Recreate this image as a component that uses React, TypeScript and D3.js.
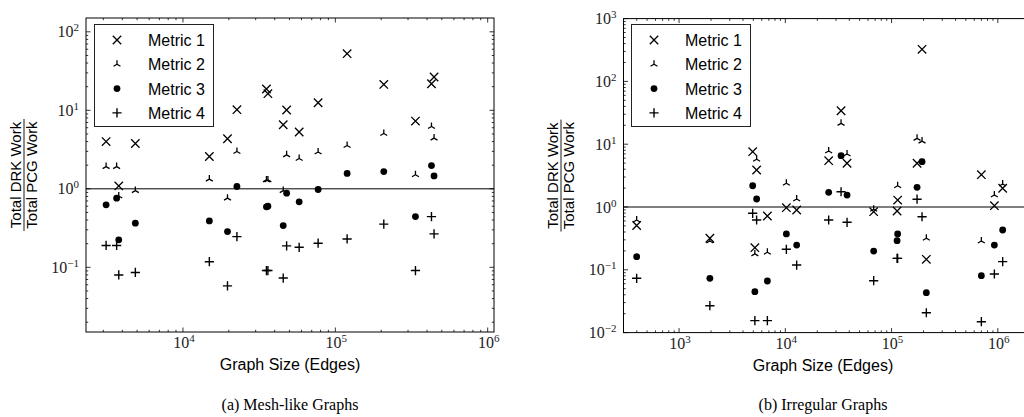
import React from "react";
import * as d3 from "d3";

// ---------- DATA ----------
const meshSizes = [3130, 3670, 3790, 4870, 14900, 19600, 22600, 35300, 36100, 45500, 47900, 57900, 77100, 119500, 208000, 335700, 427600, 444600];
const meshMetric1 = [4.0, null, 1.09, 3.78, 2.58, 4.34, 10.2, 18.7, 16.3, 6.55, 10.1, 5.29, 12.5, 52.7, 21.4, 7.3, 21.8, 26.6];
const meshMetric2 = [1.92, 1.92, 0.81, 0.95, 1.33, 0.76, 2.99, 1.3, 1.3, 0.95, 2.71, 2.43, 2.94, 3.57, 5.07, 1.51, 6.23, 4.43];
const meshMetric3 = [0.625, 0.76, 0.224, 0.365, 0.39, 0.285, 1.07, 0.59, 0.6, 0.34, 0.88, 0.683, 0.98, 1.57, 1.66, 0.443, 1.98, 1.46];
const meshMetric4 = [0.19, 0.19, 0.08, 0.086, 0.118, 0.058, 0.246, 0.091, 0.091, 0.073, 0.1875, 0.18, 0.203, 0.23, 0.355, 0.091, 0.443, 0.267];

const irrSizes = [399, 1950, 4930, 5170, 5370, 6780, 10230, 12790, 25590, 33470, 38120, 67860, 112700, 114100, 173800, 193600, 212500, 700000, 928000, 1111000];
const irrMetric1 = [0.507, 0.318, 7.6, 0.225, 3.88, 0.719, 0.975, 0.896, 5.46, 34.1, 4.97, 0.842, 0.864, 1.29, 4.97, 324, 0.147, 3.27, 1.05, 1.99];
const irrMetric2 = [0.621, 0.287, null, 0.179, 5.75, 0.19, 2.39, 1.34, 7.79, 21.5, 6.98, 0.919, null, 2.18, 12.4, 11.2, 0.318, 0.287, 1.55, 2.32];
const irrMetric3 = [0.162, 0.0732, 2.18, 0.0448, 1.34, 0.0663, 0.372, 0.248, 1.71, 6.56, 1.55, 0.199, 0.291, 0.372, 2.06, 5.26, 0.0432, 0.0805, 0.248, 0.43];
const irrMetric4 = [0.0732, 0.0268, 0.794, 0.0155, 0.621, 0.0155, 0.212, 0.119, 0.621, 1.75, 0.571, 0.067, 0.152, 0.152, 1.33, 0.7, 0.0207, 0.0149, 0.0857, 0.135];

const metricNames = ["Metric 1", "Metric 2", "Metric 3", "Metric 4"];
const meshXTicks = [1e4, 1e5, 1e6];
const meshYTicks = [0.1, 1, 10, 100];
const irrXTicks = [1e3, 1e4, 1e5, 1e6];
const irrYTicks = [0.01, 0.1, 1, 10, 100, 1000];

// ---------- RENDER HELPERS ----------
const markerKinds = ["x", "tri", "dot", "plus"];

function Marker({ kind, x, y }: { kind: string; x: number; y: number }) {
  if (kind === "x") {
    const s = 4.2;
    return <path d={`M${x - s},${y - s}L${x + s},${y + s}M${x - s},${y + s}L${x + s},${y - s}`} stroke="#000" strokeWidth={1.3} fill="none" />;
  }
  if (kind === "tri") {
    const r = 4;
    return <path d={`M${x},${y}L${x},${y - r}M${x},${y}L${x - r * 0.866},${y + r * 0.5}M${x},${y}L${x + r * 0.866},${y + r * 0.5}`} stroke="#000" strokeWidth={1.3} fill="none" />;
  }
  if (kind === "dot") {
    return <circle cx={x} cy={y} r={3.4} fill="#000" />;
  }
  const s = 4.6;
  return <path d={`M${x - s},${y}L${x + s},${y}M${x},${y - s}L${x},${y + s}`} stroke="#000" strokeWidth={1.4} fill="none" />;
}

function expLabel(v: number) {
  const e = Math.round(Math.log10(v));
  return e < 0 ? "\u2212" + Math.abs(e) : String(e);
}

function minorTicks(domain: [number, number]) {
  const out: number[] = [];
  const lo = Math.floor(Math.log10(domain[0]));
  const hi = Math.ceil(Math.log10(domain[1]));
  for (let e = lo; e <= hi; e++) {
    for (let k = 2; k <= 9; k++) {
      const v = k * Math.pow(10, e);
      if (v >= domain[0] && v <= domain[1]) out.push(v);
    }
  }
  return out;
}

type PanelProps = {
  x0: number; x1: number; y0: number; y1: number;
  xDomain: [number, number]; yDomain: [number, number];
  xTicks: number[]; yTicks: number[];
  sizes: number[]; series: (number | null)[][];
  legendX: number; ylabelX: number; xlabelX: number; caption: string;
};

function Panel(p: PanelProps) {
  const xs = d3.scaleLog().domain(p.xDomain).range([p.x0, p.x1]);
  const ys = d3.scaleLog().domain(p.yDomain).range([p.y1, p.y0]);
  const xMinor = minorTicks(p.xDomain);
  const yMinor = minorTicks(p.yDomain);
  const tickEls: any[] = [];
  const maj = 4.5, mnr = 2.2;
  p.xTicks.forEach((t, i) => {
    const x = xs(t);
    tickEls.push(<line key={`xb${i}`} x1={x} x2={x} y1={p.y1} y2={p.y1 - maj} />);
    tickEls.push(<line key={`xt${i}`} x1={x} x2={x} y1={p.y0} y2={p.y0 + maj} />);
  });
  xMinor.forEach((t, i) => {
    const x = xs(t);
    tickEls.push(<line key={`xmb${i}`} x1={x} x2={x} y1={p.y1} y2={p.y1 - mnr} />);
    tickEls.push(<line key={`xmt${i}`} x1={x} x2={x} y1={p.y0} y2={p.y0 + mnr} />);
  });
  p.yTicks.forEach((t, i) => {
    const y = ys(t);
    tickEls.push(<line key={`yl${i}`} x1={p.x0} x2={p.x0 + maj} y1={y} y2={y} />);
    tickEls.push(<line key={`yr${i}`} x1={p.x1} x2={p.x1 - maj} y1={y} y2={y} />);
  });
  yMinor.forEach((t, i) => {
    const y = ys(t);
    tickEls.push(<line key={`yml${i}`} x1={p.x0} x2={p.x0 + mnr} y1={y} y2={y} />);
    tickEls.push(<line key={`ymr${i}`} x1={p.x1} x2={p.x1 - mnr} y1={y} y2={y} />);
  });

  const lx = p.legendX, ly = 24;
  const cy = (p.y0 + p.y1) / 2;
  const clipId = `clip${Math.round(p.x0)}`;
  return (
    <g>
      <defs>
        <clipPath id={clipId}>
          <rect x={p.x0} y={p.y0} width={p.x1 - p.x0} height={p.y1 - p.y0} />
        </clipPath>
      </defs>
      <line x1={p.x0} x2={p.x1} y1={ys(1)} y2={ys(1)} stroke="#000" strokeWidth={1} />
      <g clipPath={`url(#${clipId})`}>
        {p.series.map((vals, si) =>
          vals.map((v, i) => (v == null ? null : <Marker key={`${si}-${i}`} kind={markerKinds[si]} x={xs(p.sizes[i])} y={ys(v)} />))
        )}
      </g>
      <g stroke="#000" strokeWidth={0.8}>{tickEls}</g>
      <rect x={p.x0} y={p.y0} width={p.x1 - p.x0} height={p.y1 - p.y0} stroke="#000" strokeWidth={1} fill="none" />
      {p.yTicks.map((t, i) => (
        <text key={`yl${i}`} x={p.x0 - 7} y={ys(t) + 5.5} textAnchor="end" fontFamily="'Liberation Serif', 'DejaVu Serif', serif" fontSize={16} fill="#222">
          10<tspan fontSize={11} dy={-6}>{expLabel(t)}</tspan>
        </text>
      ))}
      {p.xTicks.map((t, i) => (
        <text key={`xl${i}`} x={xs(t) + 1} y={p.y1 + 16} textAnchor="middle" fontFamily="'Liberation Serif', 'DejaVu Serif', serif" fontSize={16} fill="#222">
          10<tspan fontSize={11} dy={-6}>{expLabel(t)}</tspan>
        </text>
      ))}
      <text x={p.xlabelX} y={p.y1 + 38} textAnchor="middle" fontFamily="'Liberation Sans', Arial, sans-serif" fontSize={16} fill="#000">Graph Size (Edges)</text>
      <text x={p.xlabelX} y={410} textAnchor="middle" fontFamily="'Liberation Serif', 'Times New Roman', serif" fontSize={16} fill="#000">{p.caption}</text>
      <g transform={`translate(${p.ylabelX},${cy}) rotate(-90)`} fontFamily="'Liberation Sans', Arial, sans-serif" fontSize={15} fill="#000">
        <text x={0} y={-3} textAnchor="middle">Total DRK Work</text>
        <line x1={-56} x2={56} y1={0} y2={0} stroke="#000" strokeWidth={0.9} />
        <text x={0} y={12.5} textAnchor="middle">Total PCG Work</text>
      </g>
      <rect x={lx + 0.5} y={ly + 0.5} width={119} height={102} fill="#fff" stroke="#222" strokeWidth={1} />
      {metricNames.map((m, i) => (
        <g key={m}>
          <Marker kind={markerKinds[i]} x={lx + 23} y={ly + 16 + i * 24.3} />
          <text x={lx + 54} y={ly + 16 + i * 24.3 + 6} fontFamily="'Liberation Sans', Arial, sans-serif" fontSize={16} fill="#000">{m}</text>
        </g>
      ))}
    </g>
  );
}

export default function App() {
  return (
    <svg width={1024} height={417} style={{ position: "absolute", left: 0, top: 0, background: "#fff" }}>
      <rect x={0} y={0} width={1024} height={417} fill="#fff" />
      <Panel
        x0={86} x1={494} y0={18} y1={332}
        xDomain={[2310, 1.1e6]} yDomain={[0.015, 150]}
        xTicks={meshXTicks} yTicks={meshYTicks}
        sizes={meshSizes} series={[meshMetric1, meshMetric2, meshMetric3, meshMetric4]}
        legendX={94} ylabelX={24} xlabelX={290} caption="(a) Mesh-like Graphs"
      />
      <Panel
        x0={623.5} x1={1029.8} y0={18.6} y1={332.6}
        xDomain={[300, 2e6]} yDomain={[0.01, 1000]}
        xTicks={irrXTicks} yTicks={irrYTicks}
        sizes={irrSizes} series={[irrMetric1, irrMetric2, irrMetric3, irrMetric4]}
        legendX={631} ylabelX={561} xlabelX={823} caption="(b) Irregular Graphs"
      />
    </svg>
  );
}
